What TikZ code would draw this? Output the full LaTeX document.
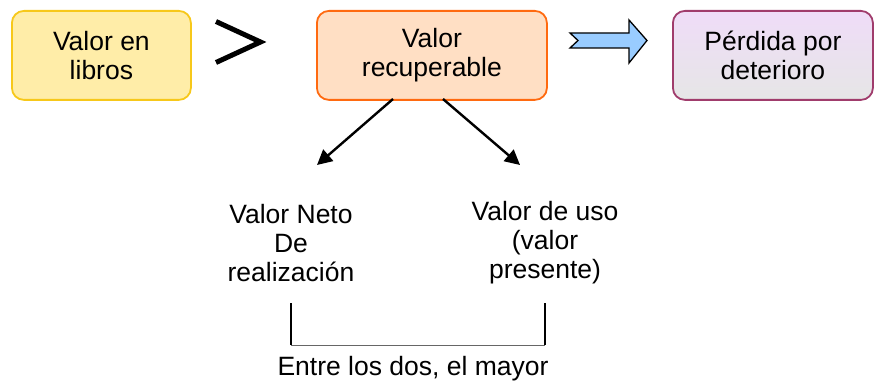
\documentclass[tikz,border=0pt]{standalone}
\usepackage{fontspec}
\setmainfont{Liberation Sans}
\usetikzlibrary{arrows.meta,calc}
\definecolor{yfill}{HTML}{FFEDA8}
\definecolor{ydraw}{HTML}{F7C81A}
\definecolor{ofill}{HTML}{FFDFC4}
\definecolor{odraw}{HTML}{FF6A10}
\definecolor{ptop}{HTML}{EFDCF8}
\definecolor{pbot}{HTML}{E6E6E6}
\definecolor{pdraw}{HTML}{A03C6C}
\definecolor{bluearrow}{HTML}{99CCFF}
\tikzset{
  txt/.style={font=\fontsize{26.5}{29}\selectfont, align=center, inner sep=0pt},
  box/.style={txt, rounded corners=12pt, line width=1.8pt, minimum height=89pt, anchor=north west},
  conn/.style={line width=2.4pt, -{Triangle[length=15pt,width=15pt]}},
  brk/.style={line width=1.8pt},
}
\begin{document}
\begin{tikzpicture}[x=1pt,y=-1pt]
\useasboundingbox (0,0) rectangle (874,385);
\node[box, fill=yfill, draw=ydraw, minimum width=179pt] (lib) at (11,10) {Valor en\\libros};
\node[box, fill=ofill, draw=odraw, minimum width=230pt] (rec) at (316,10) {Valor\\recuperable};
\node[box, top color=ptop, bottom color=pbot, draw=pdraw, minimum width=200pt] (per) at (672,10) {Pérdida por\\deterioro};
% greater-than sign
\coordinate (g1) at (216,21.5);
\coordinate (g2) at (260.5,42);
\coordinate (g3) at (216,62.5);
\draw[line width=5pt, line join=miter] (g1) -- (g2) -- (g3);
% block arrow
\draw[fill=bluearrow, line width=1.3pt, line join=miter]
  (570,33) -- (629,33) -- (629,20) -- (647,40.5) -- (629,63) -- (629,48) -- (570,48) -- (578,40.5) -- cycle;
% connectors
\coordinate (s1) at (393,99);
\coordinate (s2) at (443,99);
\coordinate (e1) at (317,165);
\coordinate (e2) at (520,165);
\draw[conn] (s1) -- (e1);
\draw[conn] (s2) -- (e2);
\node[txt] (vnr) at (291,243) {Valor Neto\\De\\realización};
\node[txt] (vu) at (545,243) {Valor de uso\\(valor\\presente)};
\coordinate (b1) at (291,303);
\coordinate (b2) at (291,345);
\coordinate (b3) at (545,345);
\coordinate (b4) at (545,303);
\draw[brk] (b1) -- (b2);
\draw[brk] (b4) -- (b3);
\draw[line width=0.8pt, black!60] (b2) -- (b3);
\node[txt] (may) at (413,369) {Entre los dos, el mayor};
\end{tikzpicture}
\end{document}
